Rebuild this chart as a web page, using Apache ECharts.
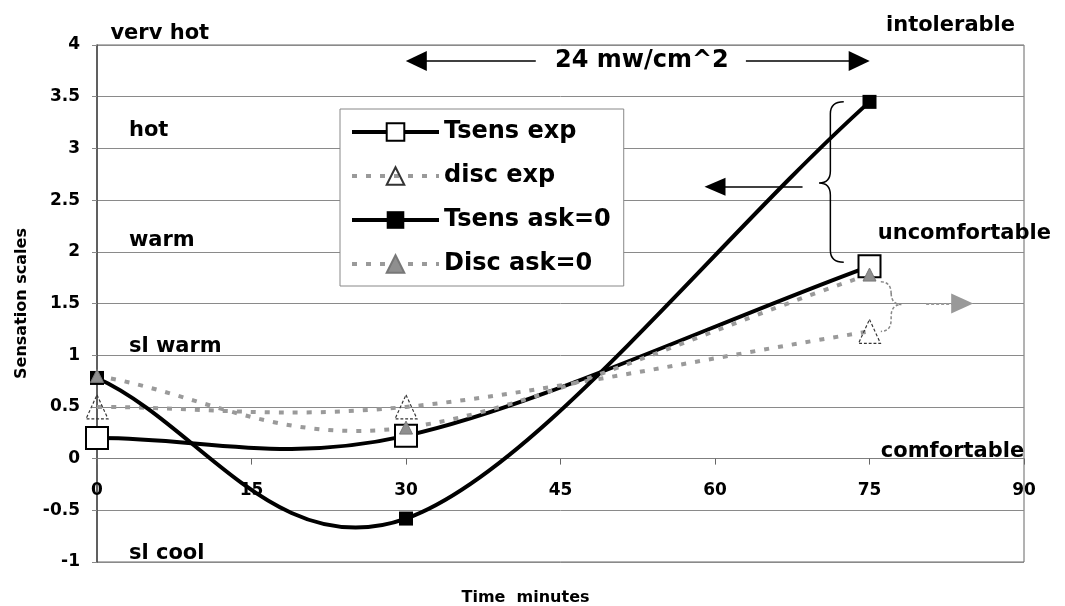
<!DOCTYPE html>
<html>
<head>
<meta charset="utf-8">
<script src="https://cdn.jsdelivr.net/npm/echarts@6/dist/echarts.min.js"></script>
<style>
  html, body { margin: 0; padding: 0; background: #fff; }
  #chart { width: 1065px; height: 606px; }
</style>
</head>
<body>
<div id="chart"></div>
<script>
// measurement times (minutes)
const times = [0, 30, 75]
// sensation values
const tsensExp = [0.2, 0.22, 1.86]
const discExp = [0.5, 0.5, 1.23]
const tsensAsk0 = [0.78, -0.58, 3.45]
const discAsk0 = [0.8, 0.3, 1.78]
const seriesNames = ['Tsens exp', 'disc exp', 'Tsens ask=0', 'Disc ask=0']
// exposure window
const exposureStart = 30
const exposureEnd = 75
const exposureLabel = '24 mw/cm^2'
// scale words
const sensationWords = ['verv hot', 'hot', 'warm', 'sl warm', 'sl cool']
const comfortWords = ['intolerable', 'uncomfortable', 'comfortable']

const FONT = 'DejaVu Sans'
const pairs = vals => times.map((t, i) => [t, vals[i]])

// where the words sit, in data units [minutes, scale]
const sensationPos = [[1.3, 4.11], [3.1, 3.17], [3.1, 2.11], [3.1, 1.085], [3.1, -0.917]]
const comfortPos = [[76.6, 4.19], [75.8, 2.18], [76.1, 0.07]]

// braces: [xEnd, xSpine, xTip, yTop, yTip, yBottom]
const braces = [
  [72.5, 71.2, 70.1, 3.45, 2.665, 1.9],
  [76.1, 77.1, 78.1, 1.71, 1.49, 1.23]
]
const braceStyles = [
  { stroke: '#000', lineWidth: 1.5 },
  { stroke: '#888', lineWidth: 1.5, lineDash: [3, 2] }
]

const blackLine = { color: '#000', width: 4, type: 'solid' }
const greyDots = { color: '#9a9a9a', width: 4, type: [5, 9] }

// spreadsheet-style smoothed line through the points (pixel space)
const smoothPath = pts => {
  const n = pts.length
  const ctrl = i => {
    const p = pts[i]
    if (i === 0) {
      const b = pts[1]
      return { out: [p[0] + (b[0] - p[0]) / 3, p[1] + (b[1] - p[1]) / 3] }
    }
    if (i === n - 1) {
      const a = pts[n - 2]
      return { in: [p[0] - (p[0] - a[0]) / 3, p[1] - (p[1] - a[1]) / 3] }
    }
    const a = pts[i - 1], b = pts[i + 1]
    const vx = (b[0] - a[0]) / 6, vy = (b[1] - a[1]) / 6
    return { in: [p[0] - vx, p[1] - vy], out: [p[0] + vx, p[1] + vy] }
  }
  let d = `M${pts[0][0]},${pts[0][1]}`
  for (let i = 0; i < n - 1; i++) {
    const c1 = ctrl(i).out, c2 = ctrl(i + 1).in, p = pts[i + 1]
    d += ` C${c1[0]},${c1[1]} ${c2[0]},${c2[1]} ${p[0]},${p[1]}`
  }
  return d
}

const curveSeries = (vals, ls, z) => ({
  type: 'custom',
  silent: true,
  z,
  data: pairs(vals),
  encode: { x: 0, y: 1 },
  renderItem: (params, api) => {
    if (params.dataIndex !== 0) return null
    const pts = times.map((t, i) => api.coord([t, vals[i]]))
    return {
      type: 'path',
      shape: { pathData: smoothPath(pts) },
      style: {
        fill: null,
        stroke: ls.color,
        lineWidth: ls.width,
        lineDash: ls.type === 'solid' ? null : ls.type
      }
    }
  }
})

const markerSeries = (name, vals, symbol, size, itemStyle, z) => ({
  name,
  type: 'line',
  data: pairs(vals),
  symbol,
  symbolSize: size,
  lineStyle: { opacity: 0 },
  itemStyle,
  z
})

const chart = echarts.init(document.getElementById('chart'))

const legendLines = [blackLine, greyDots, blackLine, greyDots]

const option = {
  animation: false,
  backgroundColor: '#fff',
  textStyle: { fontFamily: FONT },
  grid: {
    left: 97, right: 41, top: 45, bottom: 44,
    show: true, borderColor: '#666', borderWidth: 1,
    outerBoundsMode: 'none'
  },
  legend: {
    data: seriesNames.map((name, i) => ({
      name,
      lineStyle: Object.assign({ opacity: 1 }, legendLines[i])
    })),
    orient: 'vertical',
    left: 340,
    top: 109,
    itemWidth: 87,
    itemHeight: 22,
    itemGap: 20,
    padding: [11, 13, 10, 10],
    backgroundColor: '#fff',
    borderColor: '#888',
    borderWidth: 1,
    textStyle: { fontFamily: FONT, fontWeight: 'bold', fontSize: 24, color: '#000' }
  },
  xAxis: {
    type: 'value',
    min: 0,
    max: 90,
    interval: 15,
    // axis sits on the zero line: one unit of the y scale above the grid bottom
    offset: -103.4,
    name: 'Time  minutes',
    nameLocation: 'middle',
    nameGap: 131,
    nameTextStyle: { fontFamily: FONT, fontWeight: 'bold', fontSize: 16, color: '#000', padding: [0, 70, 0, 0] },
    axisLine: { onZero: false, lineStyle: { color: '#7f7f7f', width: 1 } },
    axisTick: { show: true, length: 6, lineStyle: { color: '#666' } },
    axisLabel: { margin: 23, fontFamily: FONT, fontWeight: 'bold', fontSize: 17, color: '#000' },
    splitLine: { show: false }
  },
  yAxis: {
    type: 'value',
    min: -1,
    max: 4,
    interval: 0.5,
    name: 'Sensation scales',
    nameLocation: 'middle',
    nameGap: 67,
    nameTextStyle: { fontFamily: FONT, fontWeight: 'bold', fontSize: 16, color: '#000' },
    axisLine: { show: true, lineStyle: { color: '#444', width: 1.5 } },
    axisTick: { show: true, length: 5, lineStyle: { color: '#888' } },
    axisLabel: { margin: 17, fontFamily: FONT, fontWeight: 'bold', fontSize: 17, color: '#000' },
    splitLine: { show: true, lineStyle: { color: '#8a8a8a', width: 1 } }
  },
  series: [
    curveSeries(tsensExp, blackLine, 2),
    curveSeries(discExp, greyDots, 2),
    curveSeries(tsensAsk0, blackLine, 2),
    curveSeries(discAsk0, greyDots, 2),
    markerSeries(seriesNames[0], tsensExp, 'rect', 22,
      { color: '#fff', borderColor: '#000', borderWidth: 2 }, 3),
    markerSeries(seriesNames[1], discExp, 'triangle', [22, 24],
      { color: 'rgba(255,255,255,0)', borderColor: '#333', borderWidth: 1.2, borderType: [3, 2] }, 4),
    markerSeries(seriesNames[2], tsensAsk0, 'rect', 14, { color: '#000' }, 5),
    markerSeries(seriesNames[3], discAsk0, 'triangle', 13,
      { color: '#8f8f8f', borderColor: '#777', borderWidth: 1 }, 6),
    {
      // braces plus exposure markers
      type: 'custom',
      silent: true,
      z: 7,
      data: braces,
      encode: { x: [0, 1, 2], y: [3, 4, 5] },
      renderItem: (params, api) => {
        const [ex, ty] = api.coord([api.value(0), api.value(3)])
        const sx = api.coord([api.value(1), api.value(3)])[0]
        const [tx, my] = api.coord([api.value(2), api.value(4)])
        const by = api.coord([api.value(0), api.value(5)])[1]
        const r = Math.min(12, (by - ty) / 4)
        const d = `M${ex},${ty} Q${sx},${ty} ${sx},${ty + r} L${sx},${my - r} ` +
          `Q${sx},${my} ${tx},${my} Q${sx},${my} ${sx},${my + r} ` +
          `L${sx},${by - r} Q${sx},${by} ${ex},${by}`
        return {
          type: 'path',
          shape: { pathData: d },
          style: Object.assign({ fill: null }, braceStyles[params.dataIndex])
        }
      },
      markLine: {
        silent: true,
        symbol: 'none',
        label: { show: false },
        lineStyle: { color: '#000', width: 1.5, type: 'solid' },
        data: [
          [{ coord: [exposureStart, -0.02] }, { coord: [exposureStart, 4.07] }],
          [{ coord: [exposureEnd, -0.06] }, { coord: [exposureEnd, 4.1] }],
          [
            { coord: [31, 3.845], symbol: 'triangle', symbolSize: [20, 21] },
            { coord: [42.6, 3.845], symbol: 'none' }
          ],
          [
            { coord: [63, 3.845], symbol: 'none' },
            { coord: [74, 3.845], symbol: 'triangle', symbolSize: [20, 21] }
          ],
          [
            { coord: [68.5, 2.63], symbol: 'none' },
            { coord: [60, 2.63], symbol: 'triangle', symbolSize: [18, 21] }
          ],
          [
            { coord: [80.5, 1.5], symbol: 'none', lineStyle: { color: '#999', type: [3, 2], width: 2 } },
            { coord: [84, 1.5], symbol: 'triangle', symbolSize: [20, 22] }
          ]
        ]
      }
    }
  ]
}

chart.setOption(option)

const px = p => chart.convertToPixel({ gridIndex: 0 }, p)
const word = (text, pos, size, align) => {
  const [x, y] = px(pos)
  return {
    type: 'text',
    x, y,
    silent: true,
    z: 20,
    style: {
      text,
      fill: '#000',
      font: `bold ${size}px "${FONT}"`,
      align: align || 'left',
      verticalAlign: 'middle',
      backgroundColor: align === 'center' ? '#fff' : null
    }
  }
}

const labels = []
sensationWords.forEach((w, i) => labels.push(word(w, sensationPos[i], 21)))
comfortWords.forEach((w, i) => labels.push(word(w, comfortPos[i], 21)))
labels.push(word(exposureLabel, [52.9, 3.845], 24, 'center'))

chart.setOption({ graphic: labels })
</script>
</body>
</html>
